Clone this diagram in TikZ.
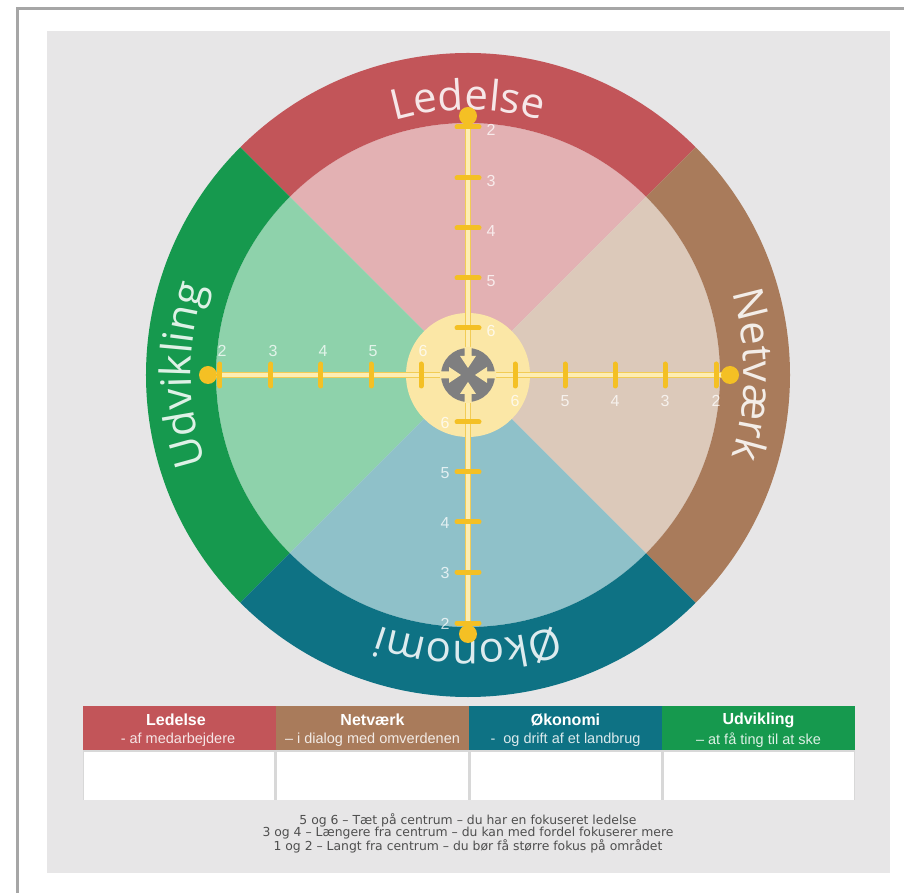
\documentclass[tikz,border=0pt]{standalone}
\usepackage{fontspec}
\setmainfont{Liberation Sans}
\newfontfamily\ringfam{Open Sans}
\newfontfamily\notefam{DejaVu Sans}
\usetikzlibrary{decorations.text}
\definecolor{framegray}{HTML}{A6A6A6}
\definecolor{panel}{HTML}{E7E6E7}
\definecolor{ledring}{HTML}{C25559}
\definecolor{ledpale}{HTML}{E3B1B3}
\definecolor{netring}{HTML}{A97B5B}
\definecolor{netpale}{HTML}{DCC9BA}
\definecolor{okoring}{HTML}{0E7284}
\definecolor{okopale}{HTML}{8FC1C9}
\definecolor{udvring}{HTML}{16994E}
\definecolor{udvpale}{HTML}{8ED2AB}
\definecolor{centerpale}{HTML}{FBE7A6}
\definecolor{icongray}{HTML}{7F7F80}
\definecolor{gold}{HTML}{F4C024}
\definecolor{lineedge}{HTML}{F2CC55}
\definecolor{linepale}{HTML}{FDEDB3}
\definecolor{notegray}{HTML}{4F4F4F}
\definecolor{sepgray}{HTML}{D8D8D8}
\newcommand\ringtextfont{\ringfam\fontsize{42}{42}\selectfont}
\tikzset{
  ticksty/.style={draw=gold, line width=5pt, line cap=round},
  ticklab/.style={text=white, text opacity=0.75, font=\fontsize{16}{16}\selectfont, inner sep=0pt},
  hdrcell/.style={minimum width=193pt, minimum height=44pt, inner sep=0pt, draw=none},
  bodycell/.style={fill=white, minimum width=190pt, minimum height=48pt, inner sep=0pt},
  hdrtitle/.style={text=white, font=\bfseries\fontsize{16}{16}\selectfont, inner sep=0pt},
  hdrsub/.style={text=white, text opacity=0.85, font=\fontsize{14.5}{14.5}\selectfont, inner sep=0pt},
  notesty/.style={text=notegray, font=\notefam\fontsize{12.4}{12.4}\selectfont, inner sep=0pt},
  ringtext/.style={decorate, decoration={text along path, text align=center, text color=#1}}
}
\begin{document}
\begin{tikzpicture}[x=1pt,y=1pt]
\useasboundingbox (-468,-518) rectangle (436,375);
\fill[white] (-468,-518) rectangle (436,375);
\draw[framegray, line width=3pt] (-450,-520) -- (-450,366) -- (440,366);
\fill[panel] (-421,344) rectangle (422,-498);

% pale inner sectors
\fill[ledpale] (0,0) -- (45:252pt) arc[start angle=45,end angle=135,radius=252pt] -- cycle;
\fill[udvpale] (0,0) -- (135:252pt) arc[start angle=135,end angle=225,radius=252pt] -- cycle;
\fill[okopale] (0,0) -- (225:252pt) arc[start angle=225,end angle=315,radius=252pt] -- cycle;
\fill[netpale] (0,0) -- (-45:252pt) arc[start angle=-45,end angle=45,radius=252pt] -- cycle;

% ring sectors
\fill[ledring] (45:252pt) arc[start angle=45,end angle=135,radius=252pt] -- (135:322pt) arc[start angle=135,end angle=45,radius=322pt] -- cycle;
\fill[udvring] (135:252pt) arc[start angle=135,end angle=225,radius=252pt] -- (225:322pt) arc[start angle=225,end angle=135,radius=322pt] -- cycle;
\fill[okoring] (225:252pt) arc[start angle=225,end angle=315,radius=252pt] -- (315:322pt) arc[start angle=315,end angle=225,radius=322pt] -- cycle;
\fill[netring] (-45:252pt) arc[start angle=-45,end angle=45,radius=252pt] -- (45:322pt) arc[start angle=45,end angle=-45,radius=322pt] -- cycle;

% ring titles
\path[ringtext=white!86!ledring, decoration={text={|\ringtextfont|Ledelse}}] (150:265pt) arc[start angle=150,end angle=30,radius=265pt];
\path[ringtext=white!86!netring, decoration={text={|\ringtextfont|Netværk}}] (60:276pt) arc[start angle=60,end angle=-60,radius=276pt];
\path[ringtext=white!86!okoring, decoration={text={|\ringtextfont|Økonomi}}] (-30:266pt) arc[start angle=-30,end angle=-150,radius=266pt];
\path[ringtext=white!86!udvring, decoration={text={|\ringtextfont|Udvikling}}] (240:277pt) arc[start angle=240,end angle=120,radius=277pt];

% center disc
\fill[centerpale] (0,0) circle[radius=62pt];

% axes
\coordinate (dN) at (90:259pt);
\coordinate (dS) at (-90:259pt);
\coordinate (dE) at (0:262pt);
\coordinate (dW) at (180:260pt);
\draw[lineedge, line width=6.5pt] (dW) -- (dE);
\draw[lineedge, line width=6.5pt] (dN) -- (dS);
\draw[linepale, line width=3.5pt] (dW) -- (dE);
\draw[linepale, line width=3.5pt] (dN) -- (dS);

% ticks and labels
\foreach \rad/\lab in {47/6,97/5,147/4,197/3,248/2} {
  \draw[ticksty] (-11,\rad) -- (11,\rad);
  \draw[ticksty] (-11,-\rad) -- (11,-\rad);
  \draw[ticksty] (\rad,-11) -- (\rad,11);
  \draw[ticksty] (-\rad,-11) -- (-\rad,11);
  \node[ticklab] (tN\lab) at (23,\rad-3) {\lab};
  \node[ticklab] (tE\lab) at (\rad,-26) {\lab};
  \node[ticklab] (tS\lab) at (-23,-\rad-1) {\lab};
  \node[ticklab] (tW\lab) at (-\rad+2,24) {\lab};
}

% end dots
\foreach \d in {dN,dS,dE,dW} {
  \fill[gold] (\d) circle[radius=9pt];
}

% center icon
\fill[icongray] (0,0) circle[radius=27pt];
\foreach \a in {0,90,180,270} {
  \fill[centerpale, rotate=\a] (-3.5,28) -- (-3.5,19) -- (-8,19) -- (0,7) -- (8,19) -- (3.5,19) -- (3.5,28) -- cycle;
}

% table
\fill[sepgray] (-385,-375) rectangle (387,-425);
\node[hdrcell, fill=ledring] (h1) at (-288.5,-353) {};
\node[hdrcell, fill=netring] (h2) at (-95.5,-353) {};
\node[hdrcell, fill=okoring] (h3) at (97.5,-353) {};
\node[hdrcell, fill=udvring] (h4) at (290.5,-353) {};
\node[bodycell] (b1) at (-288.5,-400.5) {};
\node[bodycell] (b2) at (-95.5,-400.5) {};
\node[bodycell] (b3) at (97.5,-400.5) {};
\node[bodycell] (b4) at (290.5,-400.5) {};

\node[hdrtitle] (t1) at (-292,-345) {Ledelse};
\node[hdrtitle] (t2) at (-95.5,-345) {Netværk};
\node[hdrtitle] (t3) at (97.5,-345) {Økonomi};
\node[hdrtitle] (t4) at (290.5,-345) {Udvikling};
\node[hdrsub] (s1) at (-290,-365) {- af medarbejdere};
\node[hdrsub] (s2) at (-95.5,-365) {– i dialog med omverdenen};
\node[hdrsub] (s3) at (97.5,-365) {-\ \ og drift af et landbrug};
\node[hdrsub] (s4) at (290.5,-365) {– at få ting til at ske};

% notes
\node[notesty] (n1) at (0,-445) {5 og 6 – Tæt på centrum – du har en fokuseret ledelse};
\node[notesty] (n2) at (0,-458) {3 og 4 – Længere fra centrum – du kan med fordel fokuserer mere};
\node[notesty] (n3) at (0,-471.5) {1 og 2 – Langt fra centrum – du bør få større fokus på området};
\end{tikzpicture}
\end{document}
